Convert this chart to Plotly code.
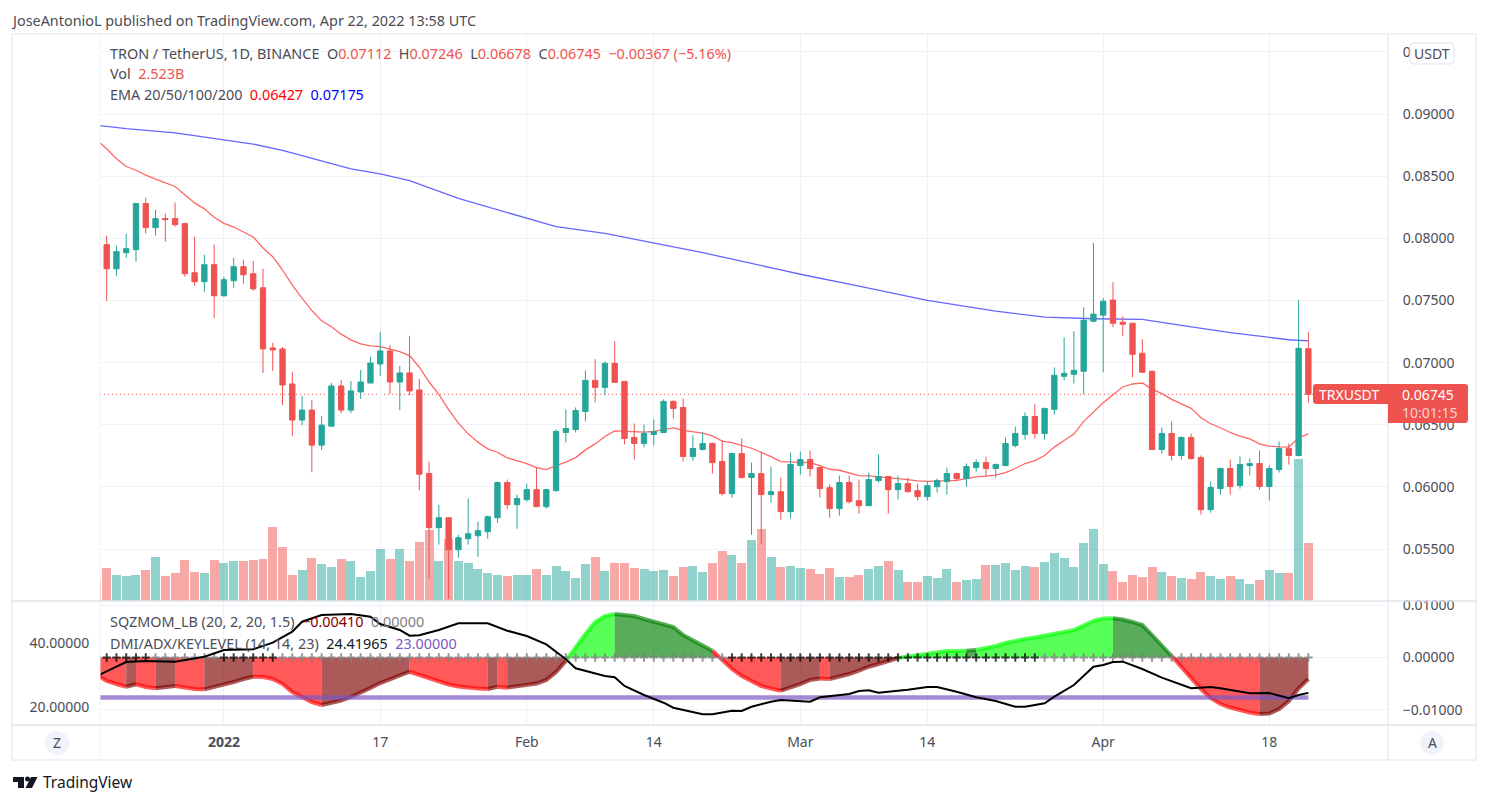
import pandas as pd
import plotly.graph_objects as go

W, H = 1488, 804
FONT = "Noto Sans"

# daily candles, Dec 19 2021 to Apr 22 2022
dates = pd.date_range("2021-12-19", periods=125, freq="D")

opens = [.08054, .07949, .07755, .07884, .07909, .08280, .08086, .08159, .08159, .08118,
         .07723, .07651, .07788, .07538, .07659, .07772, .07715, .07602, .07118, .07110,
         .06828, .06538, .06618, .06336, .06489, .06812, .06618, .06764, .06836, .06989,
         .07094, .06844, .06917, .06780, .06107, .05672, .05752, .05494, .05583, .05607,
         .05639, .05752, .06035, .05857, .05898, .05978, .05841, .05970, .06438, .06462,
         .06607, .06857, .06801, .06994, .06849, .06398, .06349, .06422, .06438, .06688,
         .06639, .06244, .06301, .06349, .06204, .05946, .06268, .06075, .06107, .05938,
         .05962, .05801, .06172, .06220, .06156, .05994, .05825, .06035, .05889, .05849,
         .06051, .06083, .05978, .06027, .05970, .05922, .06002, .06043, .06107, .06067,
         .06156, .06196, .06148, .06172, .06333, .06422, .06567, .06430, .06624, .06890,
         .06906, .06930, .07333, .07382, .07503, .07325, .07317, .07075, .06930, .06301,
         .06430, .06253, .06398, .06236, .05817, .05986, .06148, .06011, .06172, .06188,
         .06003, .06140, .06309, .06253, .07112]
highs = [.08054, .08022, .07941, .08038, .08280, .08328, .08231, .08199, .08288, .08126,
         .08014, .07868, .07949, .07691, .07844, .07828, .07820, .07755, .07159, .07126,
         .06925, .06731, .06699, .06570, .06836, .06860, .06852, .06941, .07046, .07247,
         .07143, .06973, .07215, .06868, .06204, .05857, .05752, .05615, .05906, .05720,
         .05769, .06043, .06059, .05938, .06027, .06156, .05986, .06462, .06623, .06639,
         .06938, .07027, .07010, .07172, .06849, .06510, .06502, .06543, .06704, .06696,
         .06712, .06414, .06438, .06357, .06373, .06277, .06389, .06196, .06285, .06164,
         .06075, .06277, .06285, .06293, .06164, .06019, .06091, .06091, .06059, .06115,
         .06260, .06083, .06091, .06075, .06027, .06043, .06067, .06156, .06115, .06188,
         .06220, .06244, .06188, .06398, .06486, .06599, .06664, .06639, .06962, .07204,
         .07253, .07446, .07962, .07519, .07648, .07373, .07317, .07188, .06938, .06478,
         .06527, .06406, .06430, .06253, .06043, .06156, .06220, .06245, .06228, .06293,
         .06172, .06365, .06349, .07503, .07246]
lows = [.07941, .07497, .07699, .07844, .07812, .08038, .08022, .07973, .08094, .07691,
        .07618, .07570, .07360, .07530, .07602, .07635, .07578, .06917, .06933, .06659,
        .06409, .06497, .06118, .06296, .06489, .06594, .06594, .06707, .06836, .06893,
        .06747, .06618, .06739, .05973, .05260, .05535, .05099, .05430, .05535, .05438,
        .05583, .05712, .05825, .05664, .05881, .05841, .05825, .05962, .06357, .06438,
        .06527, .06680, .06736, .06841, .06341, .06220, .06317, .06333, .06438, .06551,
        .06204, .06212, .06293, .06107, .05930, .05914, .06067, .05615, .05543, .05873,
        .05736, .05744, .06099, .06083, .05914, .05752, .05769, .05865, .05785, .05849,
        .06035, .05785, .05898, .05954, .05889, .05889, .05954, .05938, .06051, .06002,
        .06123, .06083, .06075, .06164, .06317, .06381, .06389, .06381, .06583, .06857,
        .06833, .06745, .07325, .06922, .07285, .07212, .06882, .06922, .06301, .06269,
        .06212, .06220, .06220, .05777, .05793, .05938, .05938, .05986, .06091, .05978,
        .05890, .06116, .06180, .06245, .06678]
closes = [.07941, .07755, .07893, .07917, .08280, .08086, .08159, .08151, .08110, .07715,
          .07651, .07788, .07538, .07667, .07772, .07707, .07594, .07110, .07102, .06820,
          .06538, .06618, .06336, .06497, .06812, .06618, .06772, .06844, .06997, .07094,
          .06844, .06917, .06772, .06102, .05672, .05752, .05494, .05591, .05623, .05648,
          .05760, .06035, .05857, .05906, .05978, .05841, .05978, .06446, .06470, .06615,
          .06857, .06801, .06994, .06841, .06389, .06349, .06430, .06446, .06688, .06631,
          .06244, .06309, .06349, .06196, .05946, .06268, .06075, .06107, .05938, .05962,
          .05801, .06180, .06220, .06148, .05986, .05825, .06035, .05881, .05849, .06059,
          .06083, .05978, .06027, .05962, .05922, .06010, .06051, .06107, .06067, .06164,
          .06196, .06148, .06180, .06349, .06430, .06567, .06430, .06631, .06898, .06914,
          .06938, .07341, .07390, .07494, .07317, .07309, .07067, .06922, .06301, .06430,
          .06253, .06398, .06228, .05817, .05995, .06148, .06003, .06180, .06188, .06003,
          .06148, .06309, .06253, .07115, .06745]

# volume in billions
volumes = [.87, 1.44, 1.13, 1.09, 1.13, 1.35, 1.91, 1.09, 1.22, 1.78,
           1.26, 1.22, 1.78, 1.65, 1.74, 1.74, 1.78, 1.83, 3.22, 2.35,
           1.13, 1.35, 1.87, 1.61, 1.48, 1.83, 1.74, 1.04, 1.31, 2.26,
           1.83, 2.26, 1.74, 2.57, 3.09, 1.74, 2.70, 1.74, 1.65, 1.39,
           1.22, 1.13, 1.09, 1.13, 1.13, 1.39, 1.13, 1.52, 1.31, 1.00,
           1.61, 1.91, 1.31, 1.65, 1.65, 1.44, 1.39, 1.31, 1.35, 1.09,
           1.48, 1.52, 1.26, 1.65, 2.18, 2.00, 1.65, 2.65, 3.13, 1.91,
           1.48, 1.52, 1.44, 1.39, 1.17, 1.44, 1.04, 1.04, 1.13, 1.39,
           1.52, 1.74, 1.35, .83, .83, 1.09, 1.00, 1.39, .83, .91,
           .96, 1.57, 1.57, 1.65, 1.35, 1.52, 1.48, 1.70, 2.09, 1.87,
           1.48, 2.52, 3.13, 1.61, 1.31, .83, 1.13, 1.04, 1.48, 1.26,
           1.09, 1.00, .96, 1.26, 1.09, .96, 1.09, .96, .74, .91,
           1.35, 1.22, 1.22, 6.18, 2.523]

ema20 = [.08790, .08720, .08640, .08578, .08548, .08508, .08476, .08446, .08417, .08350,
         .08285, .08237, .08169, .08121, .08091, .08051, .08011, .07922, .07852, .07745,
         .07624, .07519, .07419, .07336, .07288, .07229, .07183, .07151, .07135, .07129,
         .07108, .07089, .07057, .06963, .06844, .06744, .06621, .06513, .06427, .06360,
         .06306, .06279, .06234, .06209, .06188, .06156, .06139, .06172, .06199, .06236,
         .06298, .06346, .06406, .06451, .06446, .06441, .06441, .06446, .06462, .06475,
         .06454, .06441, .06432, .06411, .06368, .06357, .06333, .06311, .06277, .06244,
         .06204, .06201, .06204, .06196, .06172, .06142, .06134, .06113, .06091, .06088,
         .06083, .06075, .06067, .06059, .06048, .06045, .06048, .06051, .06053, .06067,
         .06080, .06086, .06094, .06115, .06148, .06188, .06212, .06252, .06320, .06374,
         .06425, .06527, .06602, .06677, .06742, .06804, .06828, .06836, .06787, .06750,
         .06704, .06669, .06632, .06556, .06508, .06476, .06438, .06409, .06387, .06347,
         .06328, .06322, .06320, .06395, .06427]

ema200_dates = ["2021-12-19", "2021-12-22", "2021-12-27", "2022-01-01", "2022-01-04", "2022-01-07",
                "2022-01-11", "2022-01-14", "2022-01-17", "2022-01-20", "2022-01-25", "2022-02-01",
                "2022-02-04", "2022-02-09", "2022-02-14", "2022-02-19", "2022-02-27", "2022-03-01",
                "2022-03-07", "2022-03-14", "2022-03-21", "2022-03-26", "2022-03-31", "2022-04-05",
                "2022-04-09", "2022-04-14", "2022-04-20", "2022-04-22"]
ema200 = [.08909, .08882, .08849, .08790, .08758, .08707,
          .08621, .08559, .08519, .08465, .08321, .08160,
          .08094, .08040, .07960, .07885, .07746, .07711,
          .07615, .07500, .07414, .07366, .07353, .07348,
          .07299, .07241, .07184, .07175]

# squeeze momentum
momentum = [-.00335, -.00449, -.00507, -.00558, -.00512, -.00564, -.00589, -.00574, -.00545, -.00574,
            -.00602, -.00608, -.00564, -.00526, -.00468, -.00411, -.00367, -.00373, -.00411, -.00507,
            -.00660, -.00755, -.00851, -.00908, -.00870, -.00822, -.00755, -.00679, -.00583, -.00488,
            -.00411, -.00354, -.00272, -.00335, -.00402, -.00459, -.00516, -.00555, -.00583, -.00593,
            -.00602, -.00558, -.00577, -.00555, -.00526, -.00497, -.00430, -.00277, -.00067, .00201,
            .00449, .00679, .00793, .00832, .00813, .00793, .00736, .00685, .00641, .00583,
            .00430, .00335, .00239, .00130, -.00034, -.00220, -.00354, -.00449, -.00545, -.00593,
            -.00635, -.00574, -.00507, -.00430, -.00402, -.00411, -.00373, -.00316, -.00249, -.00176,
            -.00124, -.00067, -.00010, .00019, .00048, .00061, .00096, .00124, .00124, .00130,
            .00143, .00172, .00220, .00277, .00321, .00354, .00382, .00411, .00449, .00488,
            .00526, .00602, .00698, .00746, .00750, .00727, .00679, .00621, .00430, .00220,
            .00029, -.00182, -.00392, -.00602, -.00774, -.00889, -.00956, -.01004, -.01052, -.01080,
            -.01071, -.00985, -.00832, -.00589, -.00410]
mom_breaks = [0, 3, 4, 6, 8, 11, 16, 23, 32, 40, 41, 42, 48, 53, 63, 70, 74, 75, 82, 89, 90, 104, 110, 119, 124]
mom_states = ["red", "maroon", "red", "maroon", "red", "maroon", "red", "maroon", "red", "maroon", "red", "maroon",
              "lime", "green", "red", "maroon", "red", "maroon", "lime", "green", "lime", "green", "red", "maroon"]
# bars where the squeeze is on (black crosses)
squeeze_on = list(range(1, 6)) + list(range(13, 19)) + list(range(65, 97))

adx_dates = ["2021-12-19", "2021-12-21", "2021-12-22", "2021-12-24", "2021-12-27", "2021-12-30", "2022-01-01",
             "2022-01-04", "2022-01-06", "2022-01-08", "2022-01-09", "2022-01-11", "2022-01-14", "2022-01-16",
             "2022-01-17", "2022-01-19", "2022-01-20", "2022-01-21", "2022-01-23", "2022-01-25", "2022-01-28",
             "2022-01-30", "2022-02-01", "2022-02-03", "2022-02-05", "2022-02-06", "2022-02-08", "2022-02-09",
             "2022-02-10", "2022-02-11", "2022-02-13", "2022-02-15", "2022-02-16", "2022-02-19", "2022-02-20",
             "2022-02-22", "2022-02-23", "2022-02-24", "2022-02-26", "2022-02-27", "2022-03-02", "2022-03-03",
             "2022-03-06", "2022-03-07", "2022-03-08", "2022-03-09", "2022-03-12", "2022-03-14", "2022-03-15",
             "2022-03-17", "2022-03-19", "2022-03-21", "2022-03-23", "2022-03-24", "2022-03-26", "2022-03-27",
             "2022-03-29", "2022-03-31", "2022-04-01", "2022-04-02", "2022-04-03", "2022-04-05", "2022-04-07",
             "2022-04-10", "2022-04-12", "2022-04-13", "2022-04-16", "2022-04-18", "2022-04-20", "2022-04-21",
             "2022-04-22"]
adx = [29.69, 32.6, 34.06, 34.38, 34.17, 35.72, 37.81,
       38.03, 40.1, 43.53, 46.66, 48.75, 49.06, 48.22,
       45.94, 44.06, 42.28, 42.4, 44.06, 46.15, 46.15,
       43.85, 42.19, 39.58, 34.9, 32.09, 30.53, 29.69,
       29.28, 26.56, 23.75, 21.34, 19.78, 17.72, 17.72,
       18.84, 18.75, 20.09, 21.66, 22.19, 21.66, 23.03,
       24.06, 25.0, 25.22, 24.47, 25.41, 26.25, 26.25,
       24.78, 23.03, 21.87, 20.09, 20.09, 21.16, 23.22,
       26.87, 32.6, 33.12, 34.06, 34.17, 31.88, 29.16,
       25.84, 26.25, 25.84, 24.28, 24.38, 22.72, 23.75,
       24.42]
key_level = 23

price_ticks = [.055, .06, .065, .07, .075, .08, .085, .09, .095]
mom_ticks = [-.01, 0, .01]
adx_ticks = [20, 40]
time_ticks = ["2022-01-01", "2022-01-17", "2022-02-01", "2022-02-14", "2022-03-01", "2022-03-14", "2022-04-01", "2022-04-18"]
time_labels = ["<b>2022</b>", "17", "Feb", "14", "Mar", "14", "Apr", "18"]

UP, DOWN = "#26a69a", "#ef5350"
TEXT = "#4a4d57"
GRID = "#eff1f6"
BORDER = "#e0e3eb"
MOM_COLORS = {"red": "rgba(255,0,0,0.65)", "maroon": "rgba(128,0,0,0.65)",
              "lime": "rgba(0,255,0,0.65)", "green": "rgba(0,128,0,0.65)"}

# pixel layout of the panes
LEFT, RIGHT = 100, 1388
TOP, SPLIT, BOTTOM = 34, 601, 725
price_range = [.05082, .09644]
vol_top = 24.66
mom_range = [-.0129, .0108]
adx_range = [14.375, 53.125]


def px(x):
    return x / W


def py(y):
    return 1 - y / H


fig = go.Figure()

# volume sits on the bottom axis so candles and lines stay above it
fig.add_bar(x=dates, y=volumes, yaxis="y", width=0.92 * 86400000, showlegend=False,
            marker=dict(color=[UP if c >= o else DOWN for o, c in zip(opens, closes)],
                        opacity=0.5, line_width=0))

fig.add_scatter(x=dates, y=ema20, yaxis="y2", mode="lines", line=dict(color="#ff6666", width=1.3), showlegend=False)
fig.add_scatter(x=ema200_dates, y=ema200, yaxis="y2", mode="lines", line=dict(color="#6666ff", width=1.3), showlegend=False)

fig.add_candlestick(x=dates, open=opens, high=highs, low=lows, close=closes, yaxis="y3", showlegend=False,
                    whiskerwidth=0,
                    increasing=dict(line=dict(color=UP, width=1), fillcolor=UP),
                    decreasing=dict(line=dict(color=DOWN, width=1), fillcolor=DOWN))

# momentum area, one trace per colour run
for start, end, state in zip(mom_breaks[:-1], mom_breaks[1:], mom_states):
    fig.add_scatter(x=dates[start:end + 1], y=momentum[start:end + 1], yaxis="y4", mode="lines",
                    fill="tozeroy", fillcolor=MOM_COLORS[state],
                    line=dict(color=MOM_COLORS[state], width=4), showlegend=False)

fig.add_scatter(x=dates, y=[0] * len(dates), yaxis="y4", mode="markers", showlegend=False,
                marker=dict(symbol="cross-thin", size=6,
                            line=dict(width=2, color=["rgba(0,0,0,0.75)" if i in squeeze_on else "rgba(128,128,128,0.8)"
                                                      for i in range(len(dates))])))

fig.add_scatter(x=[dates[0], dates[-1]], y=[key_level, key_level], yaxis="y5", mode="lines",
                line=dict(color="rgba(126,87,194,0.7)", width=4.5), showlegend=False)
fig.add_scatter(x=adx_dates, y=adx, yaxis="y5", mode="lines", line=dict(color="#000000", width=2), showlegend=False)


def rect_line(x0, y0, x1, y1, color, width=1):
    return dict(type="line", xref="paper", yref="paper", x0=px(x0), y0=py(y0), x1=px(x1), y1=py(y1),
                line=dict(color=color, width=width), layer="above")


def path(points, fill, line="rgba(0,0,0,0)"):
    return dict(type="path", xref="paper", yref="paper", fillcolor=fill, line=dict(color=line, width=1), layer="above",
                path=points)


def p(x, y):
    return f"{px(x):.5f},{py(y):.5f}"


shapes = [
    # outer frame and separators
    dict(type="rect", xref="paper", yref="paper", x0=px(12), y0=py(34), x1=px(1476), y1=py(760),
         line=dict(color="#eff1f7", width=2), layer="below"),
    rect_line(RIGHT, TOP, RIGHT, 760, BORDER),
    rect_line(LEFT, TOP, LEFT, 760, GRID),
    rect_line(12, SPLIT, 1476, SPLIT, BORDER, 1.5),
    rect_line(12, BOTTOM, 1476, BOTTOM, BORDER, 1.5),
    # last price line
    dict(type="line", xref="paper", yref="y3", x0=px(LEFT), x1=px(RIGHT), y0=closes[-1], y1=closes[-1],
         line=dict(color=DOWN, width=1, dash="1px,3px"), layer="below"),
    # price label
    path(f"M{p(1316, 384)} L{p(1465, 384)} Q{p(1468, 384)} {p(1468, 387)} L{p(1468, 420)} Q{p(1468, 423)} {p(1465, 423)} "
         f"L{p(1388, 423)} L{p(1388, 404)} L{p(1316, 404)} Q{p(1313, 404)} {p(1313, 401)} L{p(1313, 387)} "
         f"Q{p(1313, 384)} {p(1316, 384)} Z", DOWN),
    # USDT box
    path(f"M{p(1414, 43)} L{p(1450, 43)} Q{p(1454, 43)} {p(1454, 47)} L{p(1454, 60)} Q{p(1454, 64)} {p(1450, 64)} "
         f"L{p(1414, 64)} Q{p(1410, 64)} {p(1410, 60)} L{p(1410, 47)} Q{p(1410, 43)} {p(1414, 43)} Z", "#ffffff", BORDER),
    # Z and A buttons
    dict(type="circle", xref="paper", yref="paper", x0=px(45), y0=py(731), x1=px(69), y1=py(755),
         fillcolor="#f0f3fa", line_width=0, layer="above"),
    dict(type="circle", xref="paper", yref="paper", x0=px(1420), y0=py(731), x1=px(1444), y1=py(755),
         fillcolor="#f0f3fa", line_width=0, layer="above"),
    # logo
    path(f"M{p(13, 777)} L{p(24, 777)} L{p(24, 788)} L{p(18, 788)} L{p(18, 782)} L{p(13, 782)} Z", "#131722"),
    dict(type="circle", xref="paper", yref="paper", x0=px(25), y0=py(776.5), x1=px(30), y1=py(781.5),
         fillcolor="#131722", line_width=0, layer="above"),
    path(f"M{p(31, 777)} L{p(37.5, 777)} L{p(32, 788)} L{p(25.5, 788)} Z", "#131722"),
]


def note(x, y, text, size=14.4, color=TEXT, anchor="left"):
    return dict(x=px(x), y=py(y), xref="paper", yref="paper", text=text, showarrow=False, xanchor=anchor,
                yanchor="middle", align=anchor, font=dict(family=FONT, size=size, color=color))


def red(s):
    return f'<span style="color:{DOWN}">{s}</span>'


annotations = [
    note(9, 20, "JoseAntonioL published on TradingView.com, Apr 22, 2022 13:58 UTC"),
    note(108, 54, f"TRON / TetherUS, 1D, BINANCE  O{red('0.07112')}  H{red('0.07246')}  L{red('0.06678')}  "
                  f"C{red('0.06745')}  {red('−0.00367 (−5.16%)')}"),
    note(108, 74, f"Vol  {red('2.523B')}"),
    note(108, 95, 'EMA 20/50/100/200  <span style="color:#ff0000">0.06427</span>  <span style="color:#0000ff">0.07175</span>'),
    note(108, 621, 'SQZMOM_LB (20, 2, 20, 1.5)  <span style="color:#800000">−0.00410</span>  <span style="color:#808080">0.00000</span>'),
    note(108, 643, 'DMI/ADX/KEYLEVEL (14, 14, 23)  <span style="color:#131722">24.41965</span>  <span style="color:#7e57c2">23.00000</span>'),
    note(1432, 54, "USDT", size=14, anchor="center"),
    note(1317, 394, "TRXUSDT", size=14, color="#ffffff"),
    note(1456, 394, "0.06745", size=14, color="#ffffff", anchor="right"),
    note(1460, 412, "10:01:15", size=14, color="#fbd0cf", anchor="right"),
    note(57, 742, "Z", size=14, anchor="center"),
    note(1432, 742, "A", size=14, anchor="center"),
    note(41, 782, "TradingView", size=15.5, color="#131722"),
]

tick_font = dict(family=FONT, size=14, color=TEXT)
hidden = "rgba(0,0,0,0)"
domain_price = [py(SPLIT), py(TOP)]
domain_pane = [py(BOTTOM), py(SPLIT)]

fig.update_layout(
    width=W, height=H, margin=dict(l=0, r=0, t=0, b=0), paper_bgcolor="#ffffff", plot_bgcolor="#ffffff",
    boxgap=0.22, bargap=0, hovermode=False,
    shapes=shapes, annotations=annotations,
    xaxis=dict(domain=[px(LEFT), px(RIGHT)], anchor="y4", type="date", rangeslider=dict(visible=False), automargin=False,
               range=["2021-12-19 07:36", "2022-04-30 03:36"], tickmode="array", tickvals=time_ticks, ticktext=time_labels,
               tickfont=tick_font, ticks="outside", ticklen=4, tickcolor=hidden, showgrid=True, gridcolor=GRID,
               gridwidth=1, zeroline=False, showline=False),
    # grid of the price scale is drawn by the volume axis, underneath the bars
    yaxis=dict(domain=domain_price, range=[0, vol_top], anchor="x", showticklabels=False, ticks="", zeroline=False,
               tickmode="array", showgrid=True, gridcolor=GRID, gridwidth=1, automargin=False,
               tickvals=[(t - price_range[0]) / (price_range[1] - price_range[0]) * vol_top for t in price_ticks]),
    yaxis2=dict(domain=domain_price, range=price_range, overlaying="y", anchor="x", visible=False, automargin=False),
    yaxis3=dict(domain=domain_price, range=price_range, overlaying="y", anchor="x", side="right", showgrid=False,
                zeroline=False, tickmode="array", tickvals=price_ticks, tickformat=".5f", tickfont=tick_font,
                ticks="outside", ticklen=11, tickcolor=hidden, automargin=False),
    yaxis4=dict(domain=domain_pane, range=mom_range, anchor="x", side="right", showgrid=True, gridcolor=GRID, zeroline=False,
                tickmode="array", tickvals=mom_ticks, tickformat=".5f", tickfont=tick_font, ticks="outside",
                ticklen=11, tickcolor=hidden, automargin=False),
    yaxis5=dict(domain=domain_pane, range=adx_range, overlaying="y4", anchor="x", side="left", showgrid=False, zeroline=False,
                tickmode="array", tickvals=adx_ticks, tickformat=".5f", tickfont=tick_font, ticks="outside",
                ticklen=7, tickcolor=hidden, automargin=False),
)

fig.write_html("out.html", config={"displayModeBar": False}, post_script="document.body.style.margin='0';")
